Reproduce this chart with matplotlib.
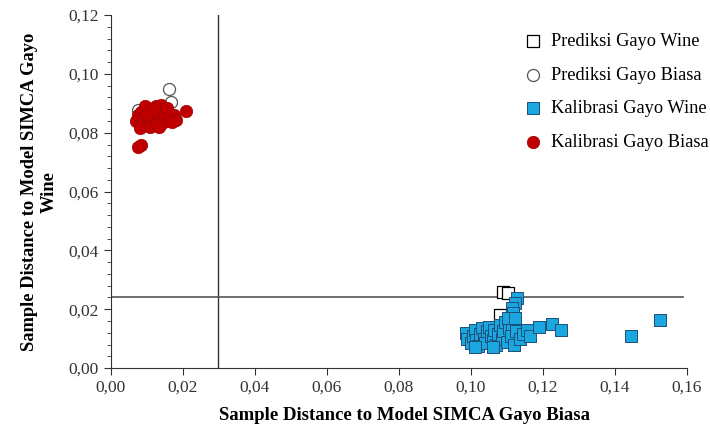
import matplotlib.pyplot as plt
from matplotlib.ticker import MultipleLocator, FuncFormatter

# Prediksi Gayo Wine (open squares)
pred_wine_x = [0.1089, 0.1103, 0.1081, 0.1095, 0.1070]
pred_wine_y = [0.0258, 0.0256, 0.0180, 0.0140, 0.0120]

# Prediksi Gayo Biasa (open circles)
pred_biasa_x = [0.0161, 0.0167, 0.0075, 0.0120, 0.0100, 0.0140]
pred_biasa_y = [0.0950, 0.0904, 0.0877, 0.0870, 0.0850, 0.0860]

# Kalibrasi Gayo Wine (blue squares)
kal_wine_x = [0.0985, 0.0990, 0.1000, 0.1005, 0.1010, 0.1015, 0.1020, 0.1025,
              0.1030, 0.1035, 0.1040, 0.1045, 0.1050, 0.1055, 0.1060, 0.1065,
              0.1070, 0.1075, 0.1080, 0.1085, 0.1090, 0.1095, 0.1100, 0.1105,
              0.1110, 0.1115, 0.1120, 0.1125, 0.1135, 0.1145, 0.1155, 0.1165,
              0.1190, 0.1225, 0.1250, 0.1445, 0.1525,
              0.1128, 0.1122, 0.1114, 0.1117, 0.1103, 0.1122, 0.1010, 0.1060]
kal_wine_y = [0.0120, 0.0100, 0.0085, 0.0110, 0.0130, 0.0095, 0.0075, 0.0115,
              0.0135, 0.0100, 0.0085, 0.0125, 0.0140, 0.0110, 0.0095, 0.0130,
              0.0080, 0.0115, 0.0145, 0.0100, 0.0125, 0.0155, 0.0090, 0.0135,
              0.0110, 0.0150, 0.0080, 0.0125, 0.0100, 0.0115, 0.0130, 0.0110,
              0.0140, 0.0150, 0.0130, 0.0108, 0.0163,
              0.0238, 0.0221, 0.0204, 0.0187, 0.0170, 0.0170, 0.0072, 0.0070]

# Kalibrasi Gayo Biasa (red circles)
kal_biasa_x = [0.0070, 0.0075, 0.0080, 0.0085, 0.0090, 0.0095, 0.0100, 0.0105,
               0.0110, 0.0115, 0.0120, 0.0125, 0.0130, 0.0135, 0.0140, 0.0145,
               0.0150, 0.0155, 0.0160, 0.0165, 0.0175, 0.0180, 0.0080, 0.0095,
               0.0110, 0.0125, 0.0140, 0.0155, 0.0170, 0.0100, 0.0120, 0.0135,
               0.0208, 0.0083, 0.0075]
kal_biasa_y = [0.0840, 0.0860, 0.0830, 0.0870, 0.0845, 0.0825, 0.0880, 0.0850,
               0.0835, 0.0875, 0.0860, 0.0890, 0.0845, 0.0870, 0.0830, 0.0880,
               0.0855, 0.0840, 0.0870, 0.0850, 0.0860, 0.0845, 0.0815, 0.0890,
               0.0820, 0.0830, 0.0895, 0.0885, 0.0835, 0.0865, 0.0880, 0.0820,
               0.0874, 0.0757, 0.0752]

# batas kritis
x_crit = 0.0297
y_crit = 0.0241

plt.rcParams['font.family'] = ['Liberation Serif', 'DejaVu Serif']

fig = plt.figure(figsize=(7.1, 4.32), dpi=100)
ax = fig.add_axes([0.156, 0.148, 0.8116, 0.817])

ax.axvline(x_crit, color='#333333', lw=1.0, zorder=1)
ax.plot([0, 0.159], [y_crit, y_crit], color='#555555', lw=1.2, zorder=1)

ax.scatter(pred_wine_x, pred_wine_y, marker='s', s=70, facecolor='white',
           edgecolor='black', linewidths=0.9, label='Prediksi Gayo Wine', zorder=2)
ax.scatter(pred_biasa_x, pred_biasa_y, marker='o', s=75, facecolor='white',
           edgecolor='#555555', linewidths=0.9, label='Prediksi Gayo Biasa', zorder=2)
ax.scatter(kal_wine_x, kal_wine_y, marker='s', s=70, facecolor='#1AA7E0',
           edgecolor='#1F4E79', linewidths=0.7, label='Kalibrasi Gayo Wine', zorder=3)
ax.scatter(kal_biasa_x, kal_biasa_y, marker='o', s=80, facecolor='#C00000',
           edgecolor='#A00000', linewidths=0.5, label='Kalibrasi Gayo Biasa', zorder=3)

ax.set_xlim(0, 0.16)
ax.set_ylim(0, 0.12)
ax.xaxis.set_major_locator(MultipleLocator(0.02))
ax.yaxis.set_major_locator(MultipleLocator(0.02))
ax.yaxis.set_minor_locator(MultipleLocator(0.004))
fmt = FuncFormatter(lambda v, p: f'{v:.2f}'.replace('.', ','))
ax.xaxis.set_major_formatter(fmt)
ax.yaxis.set_major_formatter(fmt)
ax.tick_params(axis='both', which='major', labelsize=12.5, direction='out',
               length=5, color='#333333', labelcolor='#333333')
ax.tick_params(axis='y', which='minor', direction='out', length=3, color='#333333')

for s in ['top', 'right']:
    ax.spines[s].set_visible(False)
for s in ['left', 'bottom']:
    ax.spines[s].set_color('#333333')

ax.set_xlabel('Sample Distance to Model SIMCA Gayo Biasa', fontsize=13.5,
              fontweight='bold')
ax.xaxis.set_label_coords(0.51, -0.11)
ax.set_ylabel('Sample Distance to Model SIMCA Gayo\nWine', fontsize=13.3,
              fontweight='bold', labelpad=8)

ax.legend(loc='upper right', bbox_to_anchor=(1.06, 0.985), frameon=False,
          fontsize=13.2, handletextpad=0.0, labelspacing=0.9, borderaxespad=0.3)

fig.savefig('out.png', dpi=100)
